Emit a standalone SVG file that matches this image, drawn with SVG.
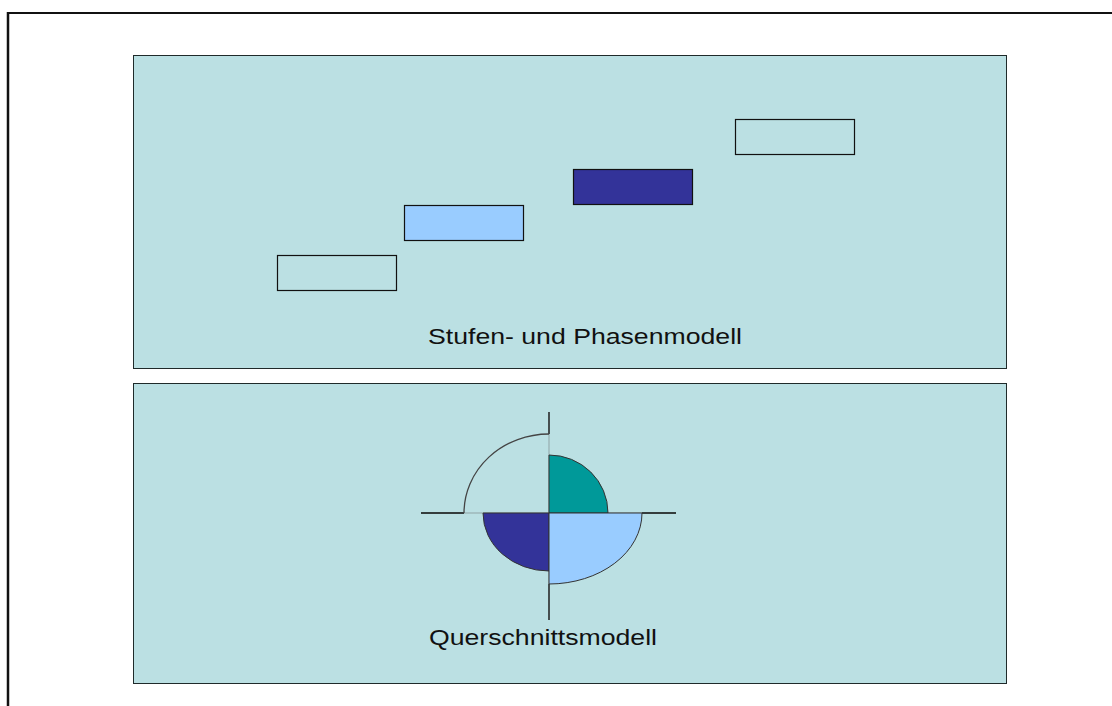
<svg xmlns="http://www.w3.org/2000/svg" width="1112" height="706" viewBox="0 0 1112 706">
<style>
.panel{fill:#BBE0E3;stroke:#1f2a2a;stroke-width:1}
.shadow{fill:none;stroke:#8a9a9a;stroke-width:1.5}
.box{stroke:#111;stroke-width:1.2}
.lbl{font-family:"Liberation Sans",Arial,sans-serif;font-size:22px;fill:#111}
.ax{stroke:#111;stroke-width:1.3;fill:none}
.axl{stroke:#8fa3a5;stroke-width:1;fill:none}
.q{stroke:#333;stroke-width:1}
</style>
<rect width="1112" height="706" fill="#ffffff"/>
<g id="frame">
<line x1="8" y1="13" x2="1112" y2="13" stroke="#111" stroke-width="2"/>
<line x1="8" y1="12" x2="8" y2="706" stroke="#111" stroke-width="2.5"/>
</g>
<g id="panel-top">
<rect class="panel" x="133.5" y="55.5" width="873" height="313"/>
<text class="lbl" x="428" y="344" textLength="314" lengthAdjust="spacingAndGlyphs">Stufen- und Phasenmodell</text>
</g>
<g id="stage1"><rect class="box" x="277.5" y="255.5" width="119" height="35" fill="none"/></g>
<g id="stage2"><rect class="box" x="404.5" y="205.5" width="119" height="35" fill="#99CCFF"/></g>
<g id="stage3"><rect class="box" x="573.5" y="169.5" width="119" height="35" fill="#333399"/></g>
<g id="stage4"><rect class="box" x="735.5" y="119.5" width="119" height="35" fill="none"/></g>
<g id="panel-bottom">
<rect class="panel" x="133.5" y="383.5" width="873" height="300"/>
<text class="lbl" x="429" y="645" textLength="228" lengthAdjust="spacingAndGlyphs">Querschnittsmodell</text>
</g>
<g id="connectors">
<line class="axl" x1="549" y1="412" x2="549" y2="620"/>
<line class="axl" x1="421" y1="513" x2="676" y2="513"/>
<line class="ax" x1="549" y1="412" x2="549" y2="434"/>
<line class="ax" x1="549" y1="584" x2="549" y2="620"/>
<line class="ax" x1="421" y1="513" x2="464" y2="513"/>
<line class="ax" x1="642" y1="513" x2="676" y2="513"/>
</g>
<g id="quadrant-tl"><path d="M464,513 A85,79 0 0 1 549,434" fill="none" stroke="#444" stroke-width="1.3"/></g>
<g id="quadrant-tr"><path class="q" d="M549,513 L549,455 A59,58 0 0 1 608,513 Z" fill="#009999"/></g>
<g id="quadrant-bl"><path class="q" d="M549,513 L483,513 A66,58 0 0 0 549,571 Z" fill="#333399"/></g>
<g id="quadrant-br"><path class="q" d="M549,513 L642,513 A93,71 0 0 1 549,584 Z" fill="#99CCFF"/></g>
</svg>
